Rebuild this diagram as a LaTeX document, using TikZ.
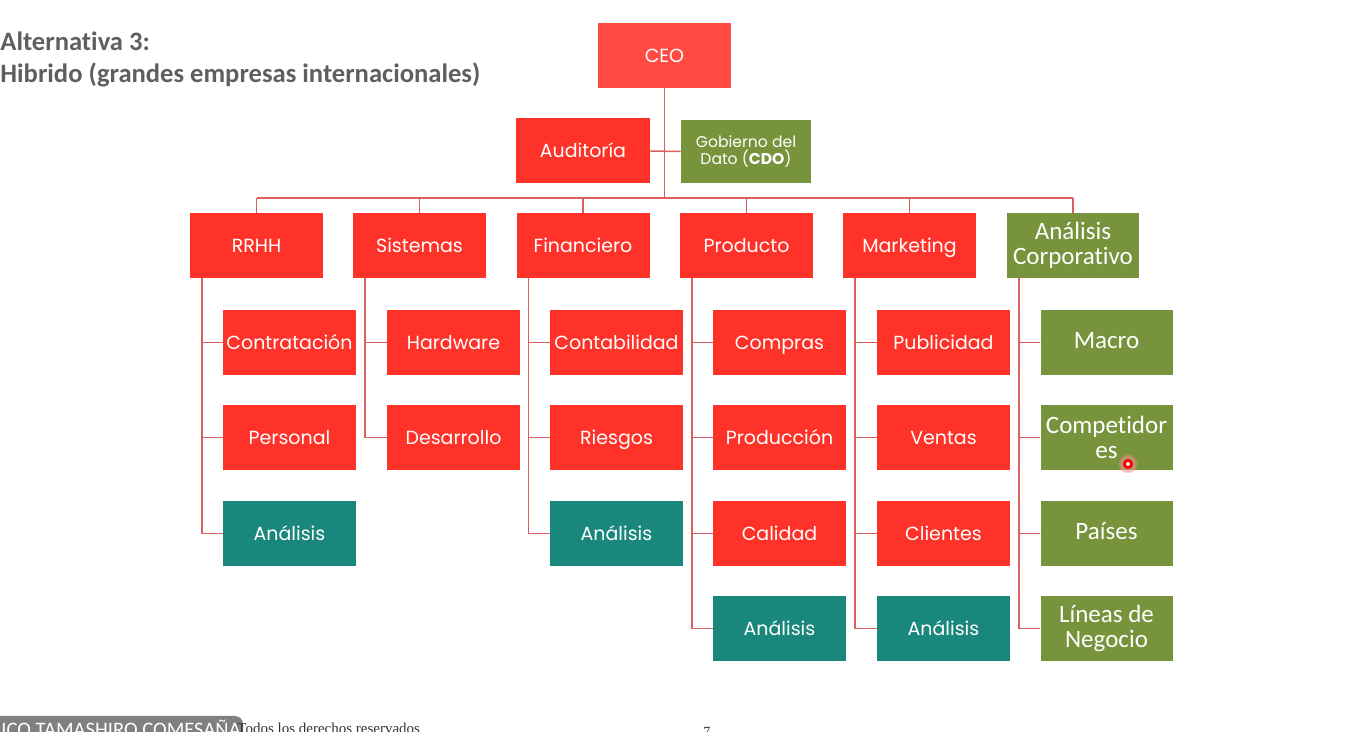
\documentclass[tikz,border=0pt]{standalone}
\usepackage{fontspec}
\setmainfont{Poppins}
\newfontfamily\calfont[Ligatures=NoCommon]{Carlito}
\newfontfamily\serfont{Liberation Serif}
\usetikzlibrary{calc}
\definecolor{cred}{RGB}{255,50,41}
\definecolor{cceo}{RGB}{255,75,66}
\definecolor{cteal}{RGB}{26,135,125}
\definecolor{cgreen}{RGB}{119,147,60}
\definecolor{cline}{RGB}{218,96,96}
\definecolor{ctitle}{RGB}{95,95,95}
\definecolor{ctab}{RGB}{128,128,128}
\definecolor{cglow}{RGB}{255,140,140}
\tikzset{
  box/.style={rectangle, inner sep=0pt, minimum width=66.5pt, minimum height=32.5pt, text=white, font=\fontsize{9.5pt}{11pt}\selectfont, text height=0.7em, text depth=0pt},
  redbox/.style={box, fill=cred},
  tealbox/.style={box, fill=cteal},
  greenbox/.style={box, fill=cgreen, font=\calfont\fontsize{12.5pt}{13pt}\selectfont, text height=0.56em},
  greentwo/.style={rectangle, inner sep=0pt, minimum width=66pt, minimum height=32.5pt, text=white, fill=cgreen, align=center, font=\calfont\fontsize{12.5pt}{12.4pt}\selectfont},
  titletext/.style={anchor=base west, inner sep=0pt, text=ctitle, font=\calfont\bfseries\fontsize{13.3pt}{15pt}\selectfont},
  conn/.style={draw=cline, line width=0.75pt},
}
\begin{document}
\begin{tikzpicture}[x=0.5pt,y=-0.5pt]
\path[use as bounding box] (0,0) rectangle (1362,732);
\clip (0,0) rectangle (1362,732);
\fill[white] (0,0) rectangle (1362,732);

% title
\node[titletext] (t1) at (0,51) {Alternativa 3:};
\node[titletext] (t2) at (0,83) {Hibrido (grandes empresas internacionales)};

% top
\node[box, fill=cceo, minimum width=66.5pt] (ceo) at (664.5,55.5) {CEO};
\node[redbox, minimum width=67pt] (aud) at (583,151) {Auditoría};
\node[rectangle, inner sep=0pt, minimum width=65pt, minimum height=31.5pt, fill=cgreen, text=white, align=center, font=\fontsize{7.8pt}{8.6pt}\selectfont] (cdo) at (746,151.5) {Gobierno del\\Dato (\textbf{CDO})};

% level 2
\node[redbox] (rrhh) at (256.5,245.5) {RRHH};
\node[redbox] (sis) at (419.5,245.5) {Sistemas};
\node[redbox] (fin) at (583,245.5) {Financiero};
\node[redbox] (prod) at (746.5,245.5) {Producto};
\node[redbox] (mkt) at (909.5,245.5) {Marketing};
\node[greentwo] (acorp) at (1073,245.5) {Análisis\\Corporativo};

% children
\node[redbox] (c11) at (289.5,342.5) {Contratación};
\node[redbox] (c12) at (289.5,437.5) {Personal};
\node[tealbox] (c13) at (289.5,533.5) {Análisis};

\node[redbox] (c21) at (453.5,342.5) {Hardware};
\node[redbox] (c22) at (453.5,437.5) {Desarrollo};

\node[redbox] (c31) at (616.5,342.5) {Contabilidad};
\node[redbox] (c32) at (616.5,437.5) {Riesgos};
\node[tealbox] (c33) at (616.5,533.5) {Análisis};

\node[redbox] (c41) at (779.5,342.5) {Compras};
\node[redbox] (c42) at (779.5,437.5) {Producción};
\node[redbox] (c43) at (779.5,533.5) {Calidad};
\node[tealbox] (c44) at (779.5,628.5) {Análisis};

\node[redbox] (c51) at (943.5,342.5) {Publicidad};
\node[redbox] (c52) at (943.5,437.5) {Ventas};
\node[redbox] (c53) at (943.5,533.5) {Clientes};
\node[tealbox] (c54) at (943.5,628.5) {Análisis};

\node[greenbox, minimum width=66pt] (c61) at (1106.5,342.5) {Macro};
\node[greentwo] (c62) at (1106.5,437.5) {Competidor\\es};
\node[greenbox, minimum width=66pt] (c63) at (1106.5,533.5) {Países};
\node[greentwo] (c64) at (1106.5,628.5) {Líneas de\\Negocio};

% connectors top
\coordinate (busC) at (664.5,198);
\coordinate (busL) at (256.5,198);
\coordinate (busR) at (1073,198);
\draw[conn] (ceo.south) -- (busC);
\draw[conn] (aud.east) -- (cdo.west);
\draw[conn] (busL) -- (busR);
\foreach \p in {rrhh,sis,fin,prod,mkt,acorp}{
  \draw[conn] (\p.north) -- (\p.north |- busL);
}

% connectors children
\foreach \p/\last/\others in {rrhh/c13/{c11,c12}, sis/c22/{c21}, fin/c33/{c31,c32}, prod/c44/{c41,c42,c43}, mkt/c54/{c51,c52,c53}, acorp/c64/{c61,c62,c63}}{
  \coordinate (v) at ($(\p.south west)+(12.5,0)$);
  \draw[conn] (v) |- (\last.west);
  \foreach \c in \others {
    \draw[conn] (\c.west) -- (\c.west -| v);
  }
}

% pointer dot
\fill[cglow, opacity=0.55] (1128,464) circle (9);
\fill[red!95!black] (1128,464) circle (5);
\fill[white] (1128,464) circle (2);

% footer
\fill[ctab, rounded corners=4pt] (-20,716) rectangle (243,760);
\node[anchor=base west, inner sep=0pt, text=white, font=\calfont\fontsize{10.3pt}{11pt}\selectfont] (ft) at (1,737) {ICO TAMASHIRO COMESAÑA};
\node[anchor=base west, inner sep=0pt, text=black!80, font=\serfont\fontsize{7.5pt}{8pt}\selectfont] (fr) at (237,734) {Todos los derechos reservados};
\node[anchor=base west, inner sep=0pt, text=black!80, font=\serfont\fontsize{7pt}{8pt}\selectfont] (pg) at (703,737) {7};
\end{tikzpicture}
\end{document}
